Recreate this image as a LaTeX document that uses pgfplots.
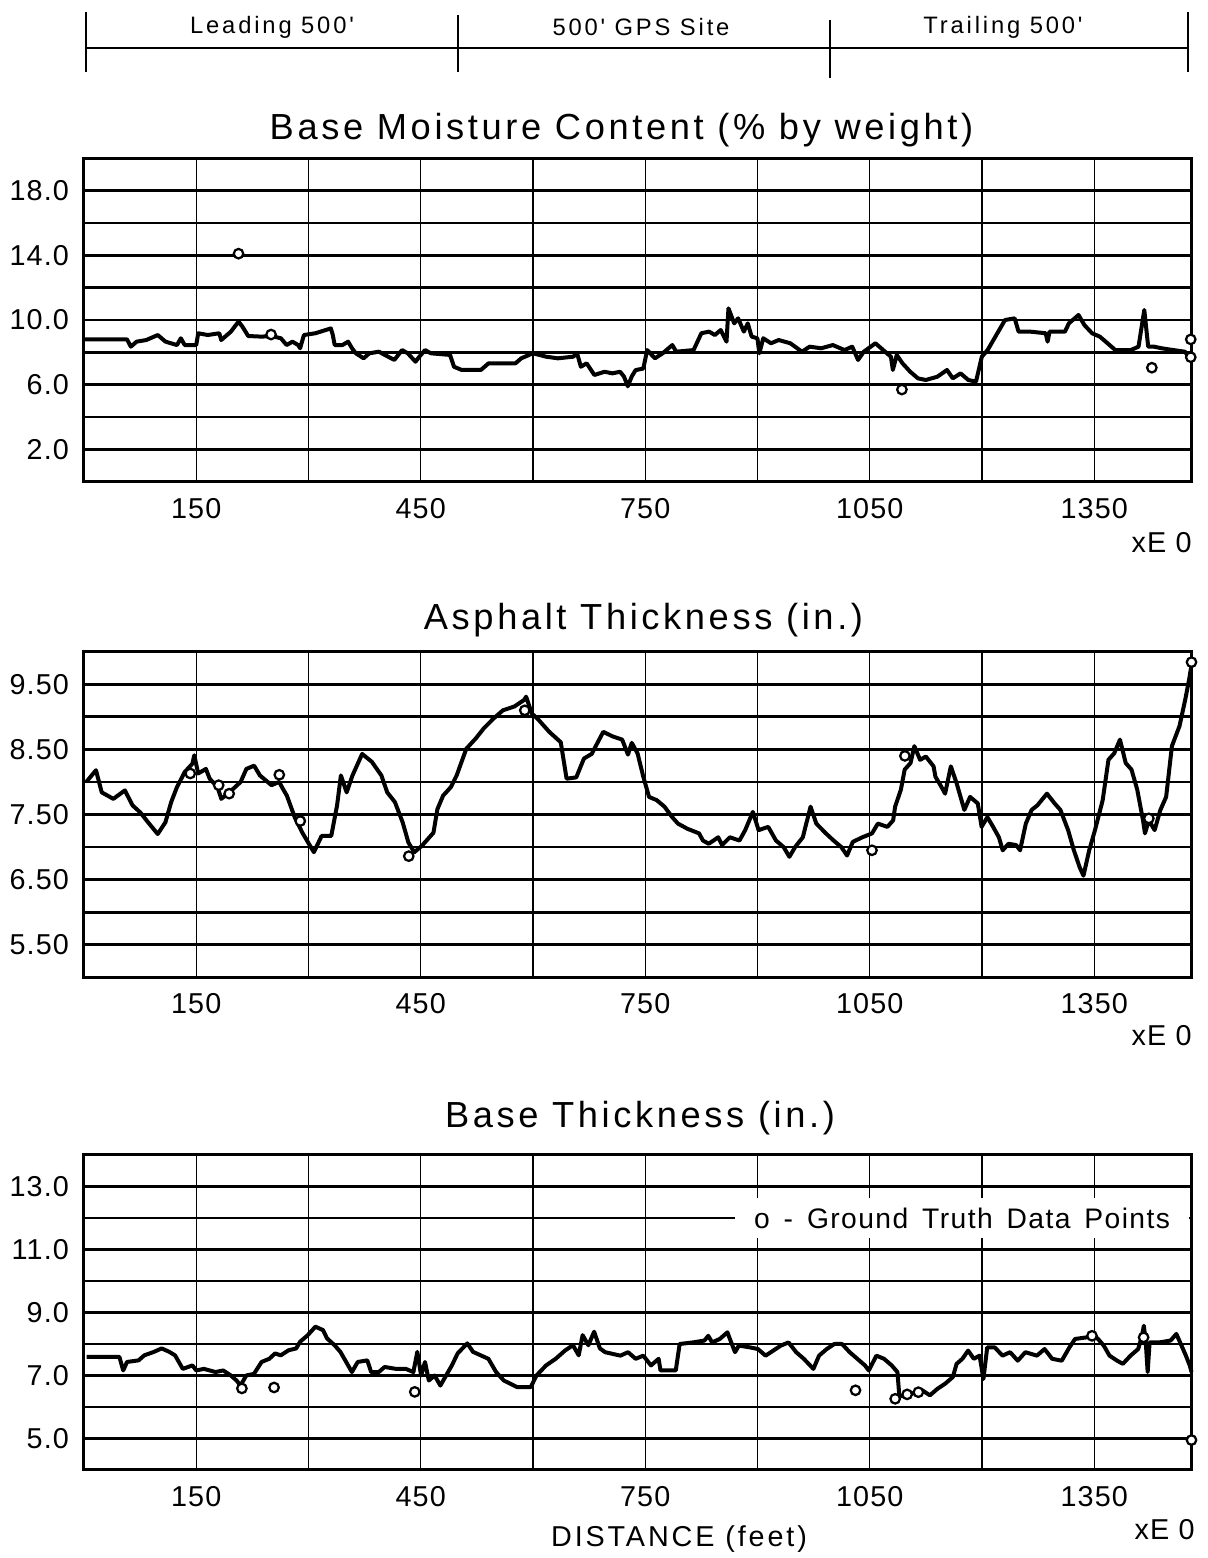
\documentclass[border=0pt]{standalone}
\usepackage{fontspec}
\setmainfont{Liberation Sans}
\newfontfamily\tickfont[LetterSpace=4]{Liberation Sans}
\newfontfamily\legfont[LetterSpace=5,WordSpace=1.5]{Liberation Sans}
\newfontfamily\titlefont[LetterSpace=10]{Liberation Sans}
\newfontfamily\headfont[LetterSpace=12]{Liberation Sans}
\usepackage{pgfplots}
\pgfplotsset{compat=1.18}
\pgfplotsset{
  panel/.style={
    scale only axis, width=443pt, xmin=0, xmax=1480,
    anchor=south west, clip=false,
    xtick={150,450,750,1050,1350},
    xticklabels={150,450,750,1050,1350},
    minor xtick={300,600,900,1200},
    grid=both,
    major x grid style={line width=0.55pt, black},
    minor x grid style={line width=0.55pt, black},
    major y grid style={line width=1.1pt, black},
    minor y grid style={line width=1.1pt, black},
    axis line style={line width=1.2pt},
    tick style={draw=none},
    ticklabel style={font=\fontsize{11.5}{13}\tickfont},
    xticklabel style={yshift=-3pt},
    yticklabel style={xshift=-2.5pt},
  },
  curve/.style={black, line width=1.6pt, line join=round, no marks},
  gt/.style={only marks, mark=*, mark size=1.9pt, mark options={fill=white, draw=black, line width=0.9pt}},
}
\begin{document}
\begin{tikzpicture}
% ---------------- Panel 1: Base Moisture Content
\begin{axis}[panel, at={(33.6pt,430.5pt)}, height=129.4pt,
  ymin=0, ymax=20, ytick={2,6,10,14,18}, yticklabels={2.0,6.0,10.0,14.0,18.0},
  minor ytick={4,8,12,16}]
\addplot[curve] coordinates {
(1,8.80) (57.5,8.80) (62.6,8.35) (70.3,8.66) (83.2,8.76) (98.6,9.07) (108.9,8.66) (124.3,8.45) (129.4,8.87) (134.6,8.45) (150,8.45) (152.6,9.18) (165.4,9.07) (180.8,9.18) (183.4,8.76) (191.1,9.07) (196.3,9.28) (206.5,9.90) (211.7,9.59) (219.4,9.01) (237.4,8.97) (250.2,9.01) (263.1,8.87) (270.8,8.45) (278.5,8.66) (286.2,8.45) (288.8,8.25) (293.9,9.07) (309.3,9.18) (329.9,9.48) (332.5,9.07) (335.0,8.45) (345.3,8.45) (353.0,8.66) (358.2,8.25) (363.3,7.94) (373.6,7.63) (381.3,7.94) (394.2,8.04) (401.9,7.84) (414.7,7.53) (425.0,8.14) (432.7,7.94) (443.0,7.42) (448.1,7.73) (455.8,8.14) (463.5,7.94) (489.2,7.84) (494.4,7.11) (504.7,6.91) (530.4,6.91) (540.6,7.32) (576.6,7.32) (584.3,7.63) (599.8,7.94) (617.7,7.73) (633.2,7.63) (653.7,7.73) (658.9,7.94) (664.0,7.11) (671.7,7.32) (682.0,6.60) (695.7,6.80) (706.1,6.70) (716.4,6.80) (721.6,6.50) (726.7,5.90) (731.9,6.50) (737.1,6.90) (747.4,7.00) (752.6,8.14) (762.9,7.63) (773.3,7.94) (786.2,8.45) (791.4,8.04) (814.6,8.14) (825.0,9.18) (835.3,9.28) (843.1,9.07) (850.8,9.38) (858.6,8.66) (861.2,10.72) (868.9,9.79) (874.1,10.10) (881.8,9.28) (887.0,9.79) (892.2,8.97) (899.9,8.87) (902.5,7.94) (907.7,8.87) (918.0,8.56) (928.4,8.76) (943.9,8.56) (959.4,8.04) (969.7,8.35) (985.2,8.25) (1000.7,8.45) (1016.3,8.14) (1026.6,8.35) (1034.4,7.53) (1042.1,8.04) (1057.6,8.56) (1068.0,8.14) (1078.3,7.73) (1080.9,6.91) (1086.1,7.84) (1093.8,7.32) (1104.1,6.80) (1114.5,6.39) (1124.8,6.29) (1140.3,6.49) (1153.3,6.91) (1161.0,6.39) (1171.4,6.70) (1181.7,6.29) (1192.0,6.19) (1199.8,7.73) (1207.5,8.14) (1217.9,8.97) (1230.8,10.00) (1243.7,10.10) (1248.9,9.28) (1264.4,9.28) (1285.1,9.18) (1287.7,8.66) (1290.3,9.28) (1310.9,9.28) (1316.1,9.79) (1329.0,10.31) (1336.8,9.69) (1347.1,9.18) (1357.5,8.97) (1367.8,8.56) (1378.2,8.14) (1398.8,8.14) (1409.2,8.35) (1416.9,10.62) (1422.1,8.35) (1429.9,8.35) (1440.2,8.25) (1455.7,8.14) (1471.2,8.04) (1479.0,7.53)
};
\addplot[gt] coordinates {(206.5,14.1) (250,9.1) (1093,5.7) (1427,7.05) (1479,8.8) (1479,7.7)};
\end{axis}
% ---------------- Panel 2: Asphalt Thickness
\begin{axis}[panel, at={(33.6pt,232.3pt)}, height=130.2pt,
  ymin=5, ymax=10, ytick={5.5,6.5,7.5,8.5,9.5}, yticklabels={5.50,6.50,7.50,8.50,9.50},
  minor ytick={6,7,8,9}]
\addplot[curve] coordinates {
(3.1,8.00) (16.0,8.18) (23.7,7.84) (39.2,7.74) (54.6,7.87) (64.9,7.64) (75.3,7.53) (85.6,7.38) (98.5,7.20) (108.8,7.38) (116.5,7.69) (124.2,7.92) (134.5,8.15) (144.8,8.28) (147.4,8.41) (152.6,8.13) (162.9,8.20) (168.0,8.05) (178.4,7.92) (183.5,7.74) (193.8,7.84) (199.0,7.89) (209.3,8.00) (217.0,8.20) (227.3,8.25) (235.1,8.10) (250.5,7.95) (260.8,8.00) (266.0,7.89) (271.1,7.79) (281.5,7.46) (291.8,7.22) (307.2,6.92) (317.5,7.17) (330.4,7.17) (338.2,7.64) (343.3,8.10) (351.0,7.84) (358.8,8.10) (371.7,8.43) (384.6,8.31) (397.4,8.10) (405.2,7.84) (415.5,7.69) (425.8,7.38) (433.5,7.07) (441.3,6.92) (451.6,7.02) (459.3,7.12) (467.0,7.22) (472.2,7.58) (479.9,7.79) (490.2,7.92) (498.0,8.10) (510.9,8.51) (523.7,8.67) (534.0,8.82) (546.9,8.97) (559.8,9.10) (575.3,9.16) (588.2,9.26) (590.8,9.31) (598.5,9.05) (606.2,8.97) (621.7,8.77) (637.1,8.61) (644.9,8.05) (657.8,8.07) (668.1,8.36) (678.4,8.43) (693.9,8.77) (706.3,8.70) (719.2,8.65) (726.9,8.42) (732.0,8.60) (739.7,8.44) (747.4,8.08) (755.1,7.77) (765.4,7.72) (775.7,7.62) (786.0,7.46) (793.7,7.36) (806.5,7.28) (821.9,7.21) (827.1,7.10) (834.8,7.05) (847.6,7.15) (852.7,7.03) (863.0,7.15) (875.9,7.10) (883.6,7.26) (893.8,7.54) (901.5,7.26) (914.4,7.31) (924.7,7.10) (934.9,7.00) (942.6,6.85) (950.3,7.00) (960.6,7.15) (970.9,7.62) (978.6,7.36) (991.4,7.21) (1001.7,7.10) (1012.0,7.00) (1019.7,6.87) (1027.4,7.08) (1040.2,7.15) (1053.1,7.21) (1060.8,7.36) (1073.6,7.31) (1081.3,7.41) (1083.9,7.62) (1091.6,7.88) (1096.7,8.19) (1104.5,8.29) (1109.6,8.55) (1117.3,8.34) (1125.0,8.39) (1135.3,8.24) (1137.8,8.08) (1145.5,7.93) (1150.7,7.82) (1158.4,8.24) (1166.1,7.98) (1176.4,7.57) (1184.1,7.77) (1194.4,7.67) (1199.5,7.31) (1207.2,7.46) (1214.9,7.31) (1222.6,7.15) (1227.7,6.95) (1235.4,7.05) (1245.7,7.03) (1250.9,6.95) (1258.6,7.36) (1266.3,7.57) (1274.0,7.64) (1286.8,7.82) (1297.1,7.67) (1304.8,7.57) (1315.1,7.26) (1322.8,6.95) (1330.5,6.69) (1335.6,6.56) (1343.3,6.95) (1351.0,7.26) (1361.3,7.72) (1369.0,8.34) (1376.7,8.44) (1384.4,8.65) (1392.1,8.29) (1399.8,8.19) (1407.5,7.88) (1415.2,7.41) (1417.8,7.21) (1423.0,7.41) (1430.7,7.26) (1438.4,7.57) (1446.1,7.77) (1453.8,8.55) (1464.0,8.86) (1471.7,9.27) (1476.9,9.58) (1480,9.80)
};
\addplot[gt] coordinates {(142,8.13) (180,7.95) (194,7.82) (261,8.11) (289,7.40) (434,6.86) (589,9.10) (1053,6.95) (1097,8.40) (1423,7.44) (1480,9.84)};
\end{axis}
% ---------------- Panel 3: Base Thickness
\begin{axis}[panel, at={(33.6pt,35.2pt)}, height=126pt,
  ymin=4, ymax=14, ytick={5,7,9,11,13}, yticklabels={5.0,7.0,9.0,11.0,13.0},
  minor ytick={6,8,10,12}]
\addplot[curve] coordinates {
(3.6,7.59) (47.3,7.59) (52.4,7.16) (57.5,7.43) (72.9,7.48) (80.6,7.64) (93.5,7.75) (103.8,7.86) (114.0,7.75) (121.7,7.64) (132.0,7.21) (144.9,7.32) (150.0,7.16) (160.3,7.21) (175.7,7.11) (186.0,7.16) (196.2,7.00) (203.9,6.84) (209.1,6.68) (216.8,7.00) (227.1,7.05) (237.3,7.43) (247.6,7.53) (255.3,7.70) (263.0,7.64) (273.3,7.80) (283.6,7.86) (288.7,8.07) (299.0,8.28) (309.2,8.55) (319.5,8.44) (324.7,8.18) (334.9,7.96) (342.6,7.75) (350.3,7.43) (358.0,7.11) (365.8,7.43) (378.6,7.48) (383.7,7.11) (394.0,7.11) (401.7,7.27) (417.1,7.21) (430.0,7.21) (440.2,7.11) (445.4,7.75) (450.5,7.00) (455.7,7.43) (460.8,6.84) (468.5,7.00) (476.2,6.68) (483.9,7.00) (491.6,7.32) (499.3,7.70) (512.2,8.02) (519.9,7.75) (530.1,7.64) (540.4,7.53) (550.7,7.11) (561.0,6.84) (579.0,6.63) (597.0,6.63) (604.6,7.00) (617.5,7.32) (630.3,7.53) (643.2,7.80) (653.4,7.96) (661.1,7.64) (666.3,8.28) (674.0,7.96) (681.7,8.39) (689.4,7.86) (696.4,7.74) (716.8,7.63) (727.0,7.74) (737.2,7.53) (747.4,7.63) (757.7,7.32) (767.9,7.53) (770.4,7.16) (790.8,7.16) (796.0,8.00) (813.8,8.05) (829.1,8.11) (834.2,8.26) (839.4,8.05) (849.6,8.16) (859.8,8.37) (864.9,8.05) (870.0,7.74) (875.1,7.95) (890.4,7.89) (900.6,7.84) (910.8,7.63) (921.1,7.79) (931.3,7.95) (941.5,8.05) (951.7,7.74) (961.9,7.53) (974.7,7.21) (982.3,7.63) (992.5,7.84) (1002.7,8.00) (1013.0,8.00) (1023.2,7.74) (1033.4,7.53) (1043.6,7.32) (1048.7,7.16) (1058.9,7.63) (1069.1,7.53) (1079.3,7.32) (1087.0,7.11) (1089.5,6.37) (1099.8,6.32) (1110.0,6.47) (1120.2,6.53) (1130.4,6.37) (1140.6,6.58) (1150.8,6.74) (1161.0,6.95) (1166.1,7.37) (1173.8,7.53) (1181.5,7.79) (1189.1,7.53) (1196.8,7.63) (1201.9,6.89) (1207.0,7.89) (1217.2,7.89) (1227.4,7.63) (1237.6,7.74) (1247.8,7.47) (1258.0,7.74) (1273.4,7.63) (1283.6,7.84) (1293.8,7.53) (1306.6,7.47) (1316.8,7.89) (1324.4,8.16) (1339.7,8.21) (1347.4,8.32) (1355.1,8.16) (1362.7,7.95) (1370.4,7.63) (1380.6,7.47) (1388.3,7.37) (1398.5,7.63) (1408.7,7.84) (1413.8,8.26) (1416.3,8.58) (1418.9,8.05) (1421.4,7.11) (1424.0,8.05) (1436.7,8.05) (1452.1,8.11) (1459.7,8.32) (1464.8,8.05) (1472.5,7.63) (1477.6,7.32) (1480,7.11)
};
\addplot[gt] coordinates {(211,6.59) (254,6.62) (442,6.48) (1031,6.53) (1084,6.26) (1100,6.40) (1115,6.47) (1347,8.26) (1416,8.21) (1480,4.95)};
\node[fill=white, anchor=east, inner xsep=7.5pt, inner ysep=4pt,
  font=\fontsize{11.3}{13}\legfont] at (rel axis cs:0.998,0.80) {o - Ground Truth Data Points};
\end{axis}
% ---------------- titles and annotations
\node[font=\fontsize{14.5}{17}\titlefont] at (248.6pt,571.2pt) {Base Moisture Content (\% by weight)};
\node[font=\fontsize{14.5}{17}\titlefont] at (257.4pt,375.2pt) {Asphalt Thickness (in.)};
\node[font=\fontsize{14.5}{17}\titlefont] at (256pt,176pt) {Base Thickness (in.)};
\node[font=\fontsize{11.5}{13}\titlefont] at (271.6pt,7.6pt) {DISTANCE (feet)};
\node[font=\fontsize{11.5}{13}\tickfont, anchor=east, inner sep=0pt] at (476.8pt,406pt) {xE 0};
\node[font=\fontsize{11.5}{13}\tickfont, anchor=east, inner sep=0pt] at (476.8pt,208.8pt) {xE 0};
\node[font=\fontsize{11.5}{13}\tickfont, anchor=east, inner sep=0pt] at (478pt,11.2pt) {xE 0};
% header bracket
\draw[line width=1.1pt] (34.4pt,604pt) -- (475.2pt,604pt);
\draw[line width=0.8pt] (34.4pt,594.4pt) -- (34.4pt,618.4pt);
\draw[line width=0.8pt] (183.2pt,594.4pt) -- (183.2pt,617.2pt);
\draw[line width=0.8pt] (332pt,592pt) -- (332pt,615.2pt);
\draw[line width=0.8pt] (475.2pt,594.4pt) -- (475.2pt,618.4pt);
\node[font=\fontsize{9.5}{11}\headfont] at (108.8pt,612.4pt) {Leading 500'};
\node[font=\fontsize{9.5}{11}\headfont] at (256.4pt,612.4pt) {500' GPS Site};
\node[font=\fontsize{9.5}{11}\headfont] at (401.2pt,612.4pt) {Trailing 500'};
\pgfresetboundingbox
\useasboundingbox (0,0) rectangle (483.2pt,623.2pt);
\end{tikzpicture}
\end{document}
